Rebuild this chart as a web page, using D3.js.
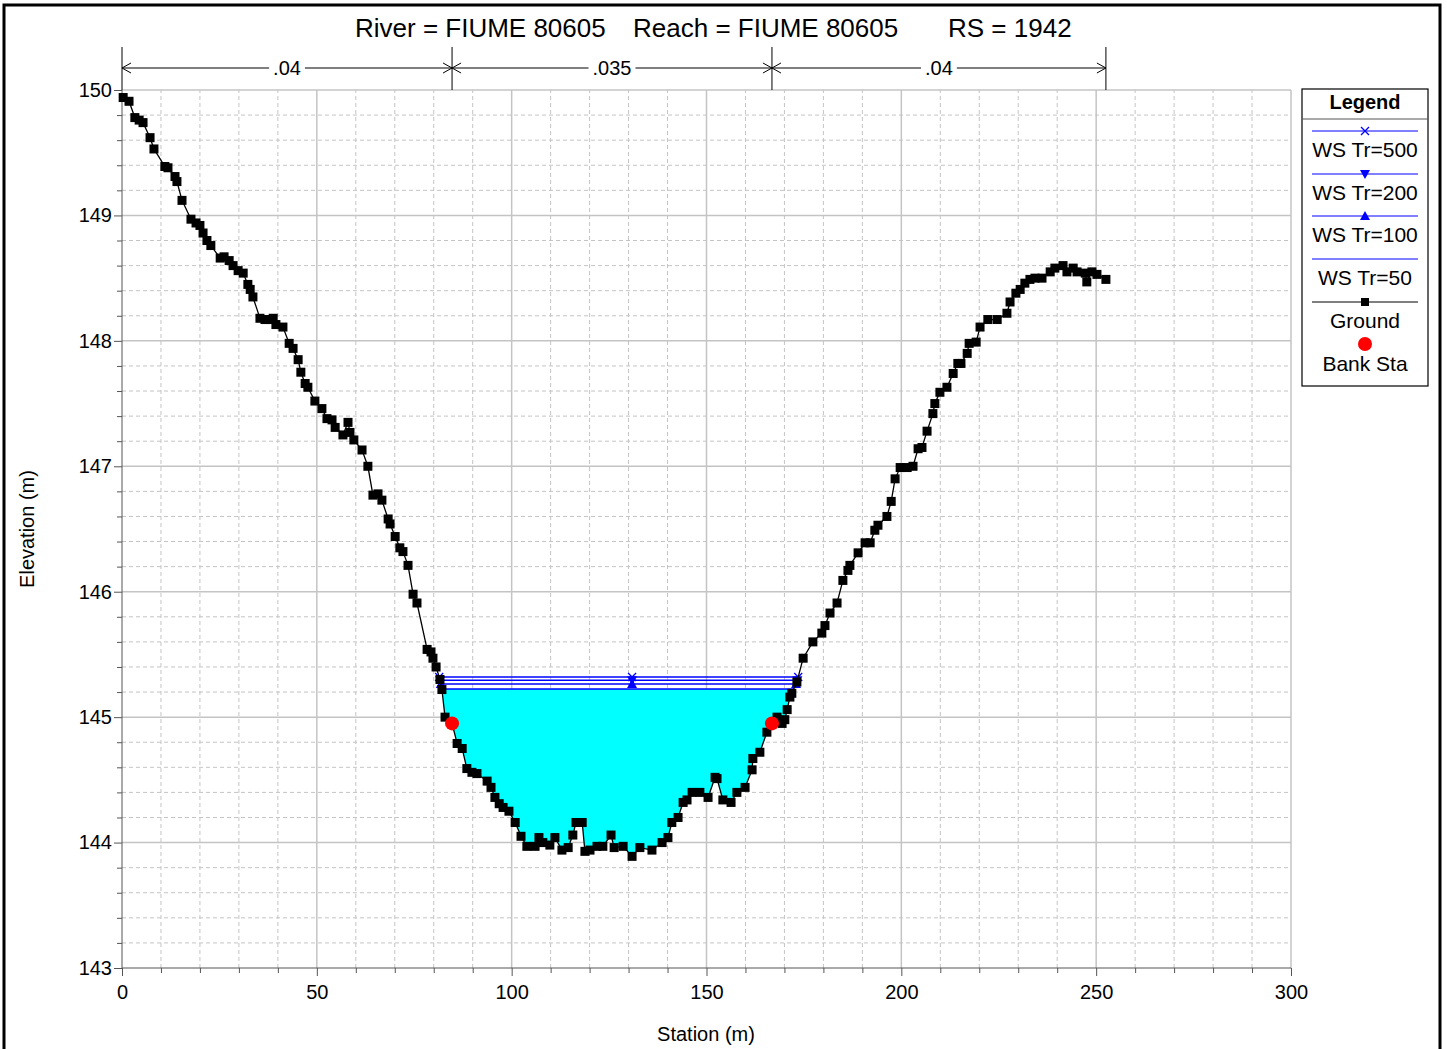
<!DOCTYPE html>
<html><head><meta charset="utf-8">
<script src="https://cdn.jsdelivr.net/npm/d3@7"></script>
<style>
html,body{margin:0;padding:0;background:#fff;}
svg{display:block;font-family:"Liberation Sans",Arial,Helvetica,sans-serif;}
</style></head>
<body>
<svg id="chart" width="1447" height="1049"></svg>
<script>
// ---- Data ----
const stations = [0.3,1.8,3.3,4.4,5.4,7.2,8.2,11.0,11.8,13.6,14.1,15.4,17.7,19.0,20.0,20.8,21.8,22.8,25.2,26.2,27.5,28.5,29.8,31.1,32.3,32.9,33.6,35.4,36.7,38.0,38.8,39.5,41.3,42.9,43.9,45.2,45.9,47.0,47.7,49.5,51.3,52.6,53.9,54.7,56.7,58.0,58.5,59.5,61.6,63.1,64.4,65.7,66.7,68.3,68.8,70.1,71.3,72.1,73.4,74.7,75.7,78.3,79.3,79.8,80.6,81.6,82.1,82.9,84.7,86.0,87.3,88.5,89.8,91.1,93.7,94.7,95.7,96.8,97.8,99.3,100.9,102.4,103.9,106.0,107.0,108.0,109.8,111.1,112.9,114.5,115.7,116.5,118.1,118.8,120.1,121.9,123.4,125.5,126.3,128.6,130.9,132.9,136.0,138.6,140.1,141.1,142.7,144.0,145.0,146.3,148.3,150.4,152.2,152.7,154.2,156.3,157.8,159.9,161.7,161.9,163.7,165.5,166.8,168.1,169.4,170.1,170.7,171.4,171.9,173.2,174.8,177.3,179.6,180.4,181.7,183.5,185.0,186.3,186.8,188.9,190.7,192.0,193.2,194.0,196.3,197.4,198.4,199.7,201.5,203.0,204.3,205.3,206.6,208.1,208.6,209.9,211.7,213.3,214.5,215.3,216.9,217.4,219.2,220.2,222.2,224.6,227.1,227.9,229.4,230.5,231.7,233.0,234.3,236.1,238.2,239.4,241.5,242.5,244.1,245.1,247.2,247.6,248.9,250.2,252.5];
const elevations = [149.94,149.91,149.78,149.76,149.74,149.62,149.53,149.39,149.38,149.31,149.27,149.12,148.97,148.94,148.92,148.86,148.80,148.76,148.66,148.67,148.64,148.60,148.56,148.54,148.45,148.41,148.35,148.18,148.17,148.17,148.18,148.13,148.11,147.98,147.94,147.85,147.75,147.66,147.63,147.52,147.46,147.38,147.37,147.31,147.25,147.35,147.27,147.21,147.13,147.00,146.77,146.78,146.73,146.58,146.54,146.44,146.35,146.32,146.21,145.98,145.91,145.54,145.52,145.47,145.40,145.30,145.22,145.00,144.95,144.79,144.75,144.59,144.56,144.55,144.49,144.44,144.36,144.31,144.28,144.25,144.16,144.05,143.97,143.97,144.04,144.00,143.98,144.04,143.94,143.96,144.06,144.16,144.16,143.93,143.94,143.97,143.97,144.06,143.96,143.97,143.89,143.96,143.94,144.00,144.04,144.16,144.20,144.32,144.34,144.40,144.40,144.36,144.52,144.51,144.34,144.32,144.40,144.44,144.58,144.67,144.72,144.88,144.95,145.00,144.95,144.98,145.06,145.16,145.19,145.28,145.47,145.60,145.67,145.73,145.83,145.91,146.09,146.17,146.21,146.31,146.39,146.39,146.49,146.53,146.60,146.72,146.90,146.99,146.99,147.00,147.14,147.15,147.28,147.42,147.50,147.59,147.63,147.74,147.82,147.82,147.90,147.98,147.99,148.11,148.17,148.17,148.22,148.31,148.38,148.41,148.46,148.49,148.50,148.50,148.55,148.58,148.60,148.55,148.58,148.55,148.54,148.47,148.55,148.53,148.49];
const wsNames = ["WS Tr=500","WS Tr=200","WS Tr=100","WS Tr=50"];
const wsLevels = [145.32,145.295,145.265,145.225];
const wsMarkers = ["cross","down","up","none"];
const bankStations = [84.7,166.8];
const bankElevations = [144.95,144.95];
const nBreaks = [0,84.7,166.8,252.5];
const nValues = [".04",".035",".04"];
const xTickLabels = [0,50,100,150,200,250,300];
const yTickLabels = [143,144,145,146,147,148,149,150];
const titleParts = ["River = FIUME 80605","Reach = FIUME 80605","RS = 1942"];

// ---- Setup ----
const svg = d3.select("#chart");
const x = d3.scaleLinear().domain([0,300]).range([122,1291]);
const y = d3.scaleLinear().domain([143,150]).range([968,90]);
const ground = stations.map((s,i)=>({s, z:elevations[i]}));

// outer frame
svg.append("rect").attr("x",4).attr("y",5).attr("width",1436).attr("height",1050)
  .attr("fill","none").attr("stroke","#000").attr("stroke-width",3);

// grid
const g = svg.append("g");
const xMinor = d3.range(0,301,10), yMinor = d3.range(0,36).map(i=>143+i*0.2);
g.selectAll(".xm").data(xMinor.filter(v=>v%50!==0)).join("line")
  .attr("x1",d=>x(d)).attr("x2",d=>x(d)).attr("y1",y(143)).attr("y2",y(150))
  .attr("stroke","#c4c4c4").attr("stroke-dasharray","4,3");
g.selectAll(".ym").data(yMinor.filter((v,i)=>i%5!==0)).join("line")
  .attr("x1",x(0)).attr("x2",x(300)).attr("y1",d=>y(d)).attr("y2",d=>y(d))
  .attr("stroke","#c4c4c4").attr("stroke-dasharray","4,3");
g.selectAll(".xM").data(xTickLabels.filter(v=>v>0)).join("line")
  .attr("x1",d=>x(d)).attr("x2",d=>x(d)).attr("y1",y(143)).attr("y2",y(150))
  .attr("stroke","#c4c4c4").attr("stroke-width",1.5);
g.selectAll(".yM").data(yTickLabels.filter(v=>v>143)).join("line")
  .attr("x1",x(0)).attr("x2",x(300)).attr("y1",d=>y(d)).attr("y2",d=>y(d))
  .attr("stroke","#c4c4c4").attr("stroke-width",1.5);

// axes
const xAxis = d3.axisBottom(x).tickValues(xMinor).tickSize(5)
  .tickFormat(d=> xTickLabels.includes(d)? d : "");
const xa = svg.append("g").attr("transform",`translate(0,${y(143)})`).call(xAxis);
xa.select(".domain").attr("stroke","#555").attr("d",`M${x(0)},0H${x(300)}`);
xa.selectAll(".tick line").attr("stroke","#555").attr("y2",d=>xTickLabels.includes(d)?8:5);
xa.selectAll("text").attr("font-size",20).attr("fill","#000").attr("dy","0.71em").attr("y",17)
  .attr("font-family","Liberation Sans, Arial, sans-serif");
const yAxis = d3.axisLeft(y).tickValues(yMinor).tickSize(5)
  .tickFormat(d=> { const r=Math.round(d*10)/10; return Number.isInteger(r)? r : ""; });
const ya = svg.append("g").attr("transform",`translate(${x(0)},0)`).call(yAxis);
ya.select(".domain").attr("stroke","#555").attr("d",`M0,${y(143)}V${y(150)}`);
ya.selectAll(".tick line").attr("stroke","#555").attr("x2",d=>Number.isInteger(Math.round(d*10)/10)?-8:-5);
ya.selectAll("text").attr("font-size",20).attr("fill","#000").attr("x",-10)
  .attr("font-family","Liberation Sans, Arial, sans-serif");

// axis titles
svg.append("text").attr("x",706).attr("y",1041).attr("text-anchor","middle")
  .attr("font-size",20).text("Station (m)");
svg.append("text").attr("transform",`translate(34,529) rotate(-90)`).attr("text-anchor","middle")
  .attr("font-size",20).text("Elevation (m)");

// title
const tX = [355,633,948];
svg.selectAll(".title").data(titleParts).join("text")
  .attr("x",(d,i)=>tX[i]).attr("y",37).attr("font-size",26).text(d=>d);

// n-value bar
const nb = svg.append("g");
nb.selectAll(".nv").data(nBreaks).join("line")
  .attr("x1",d=>x(d)).attr("x2",d=>x(d)).attr("y1",47).attr("y2",y(150)).attr("stroke","#000");
nValues.forEach((v,i)=>{
  const a=x(nBreaks[i]), b=x(nBreaks[i+1]), m=(a+b)/2, yy=68;
  const t = nb.append("text").attr("x",m).attr("y",yy+7).attr("text-anchor","middle").attr("font-size",20).text(v);
  const w = t.node().getComputedTextLength()/2+4;
  nb.append("line").attr("x1",a).attr("x2",m-w).attr("y1",yy).attr("y2",yy).attr("stroke","#000");
  nb.append("line").attr("x1",m+w).attr("x2",b).attr("y1",yy).attr("y2",yy).attr("stroke","#000");
  nb.append("path").attr("d",`M${a+9},${yy-5}L${a},${yy}L${a+9},${yy+5}M${b-9},${yy-5}L${b},${yy}L${b-9},${yy+5}`)
    .attr("fill","none").attr("stroke","#000");
});

// water surface extents
function extent(ws){
  let imin = d3.minIndex(ground,d=>d.z);
  let L=null,R=null;
  for(let i=imin;i>0;i--){ if(ground[i-1].z>=ws){ const p=ground[i-1],q=ground[i]; L=p.s+(ws-p.z)/(q.z-p.z)*(q.s-p.s); break;} }
  for(let i=imin;i<ground.length-1;i++){ if(ground[i+1].z>=ws){ const p=ground[i],q=ground[i+1]; R=p.s+(ws-p.z)/(q.z-p.z)*(q.s-p.s); break;} }
  return [L,R];
}
const fillWs = wsLevels[3];
const [fL,fR] = extent(fillWs);
const fillPts = [{s:fL,z:fillWs}].concat(ground.filter(d=>d.s>fL&&d.s<fR)).concat([{s:fR,z:fillWs}]);
svg.append("path").datum(fillPts)
  .attr("d",d3.area().x(d=>x(d.s)).y0(d=>y(d.z)).y1(y(fillWs)))
  .attr("fill","#00ffff");

const thalweg = ground[d3.minIndex(ground,d=>d.z)].s;
const ws = svg.append("g");
wsLevels.forEach((lv,i)=>{
  const [L,R]=extent(lv);
  ws.append("line").attr("x1",x(L)).attr("x2",x(R)).attr("y1",y(lv)).attr("y2",y(lv))
    .attr("stroke","#0000ff").attr("stroke-width",1.5);
  [L,thalweg,R].forEach(s=>drawWsMarker(ws,x(s),y(lv),wsMarkers[i]));
});
function drawWsMarker(sel,cx,cy,type){
  if(type==="cross"){
    sel.append("path").attr("d",`M${cx-4},${cy-4}L${cx+4},${cy+4}M${cx-4},${cy+4}L${cx+4},${cy-4}`)
      .attr("stroke","#0000ff").attr("stroke-width",1.3);
  } else if(type==="down"){
    sel.append("path").attr("d",`M${cx-5},${cy-4}L${cx+5},${cy-4}L${cx},${cy+5}Z`).attr("fill","#0000ff");
  } else if(type==="up"){
    sel.append("path").attr("d",`M${cx-5},${cy+4}L${cx+5},${cy+4}L${cx},${cy-5}Z`).attr("fill","#0000ff");
  }
}

// ground
svg.append("path").datum(ground).attr("d",d3.line().x(d=>x(d.s)).y(d=>y(d.z)))
  .attr("fill","none").attr("stroke","#000").attr("stroke-width",1.3);
svg.selectAll(".gp").data(ground).join("rect")
  .attr("x",d=>x(d.s)-4.5).attr("y",d=>y(d.z)-4.5).attr("width",9).attr("height",9).attr("fill","#000");

// bank stations
svg.selectAll(".bk").data(bankStations).join("circle")
  .attr("cx",d=>x(d)).attr("cy",(d,i)=>y(bankElevations[i])).attr("r",7).attr("fill","#ff0000");

// legend
const lg = svg.append("g");
lg.append("rect").attr("x",1302).attr("y",89).attr("width",126).attr("height",297)
  .attr("fill","#fff").attr("stroke","#000").attr("stroke-width",1.2);
lg.append("line").attr("x1",1302).attr("x2",1428).attr("y1",119).attr("y2",119).attr("stroke","#555");
lg.append("text").attr("x",1365).attr("y",109).attr("text-anchor","middle").attr("font-size",20)
  .attr("font-weight","bold").text("Legend");
const lgY = [131,174,216,259];
wsNames.forEach((n,i)=>{
  lg.append("line").attr("x1",1312).attr("x2",1418).attr("y1",lgY[i]).attr("y2",lgY[i]).attr("stroke","#0000ff").attr("stroke-width",1.2);
  drawWsMarker(lg,1365,lgY[i],wsMarkers[i]);
  lg.append("text").attr("x",1365).attr("y",lgY[i]+26).attr("text-anchor","middle").attr("font-size",21).text(n);
});
lg.append("line").attr("x1",1312).attr("x2",1418).attr("y1",302).attr("y2",302).attr("stroke","#000");
lg.append("rect").attr("x",1361).attr("y",298).attr("width",8).attr("height",8).attr("fill","#000");
lg.append("text").attr("x",1365).attr("y",328).attr("text-anchor","middle").attr("font-size",21).text("Ground");
lg.append("circle").attr("cx",1365).attr("cy",344).attr("r",7).attr("fill","#ff0000");
lg.append("text").attr("x",1365).attr("y",371).attr("text-anchor","middle").attr("font-size",21).text("Bank Sta");
</script>
</body></html>
